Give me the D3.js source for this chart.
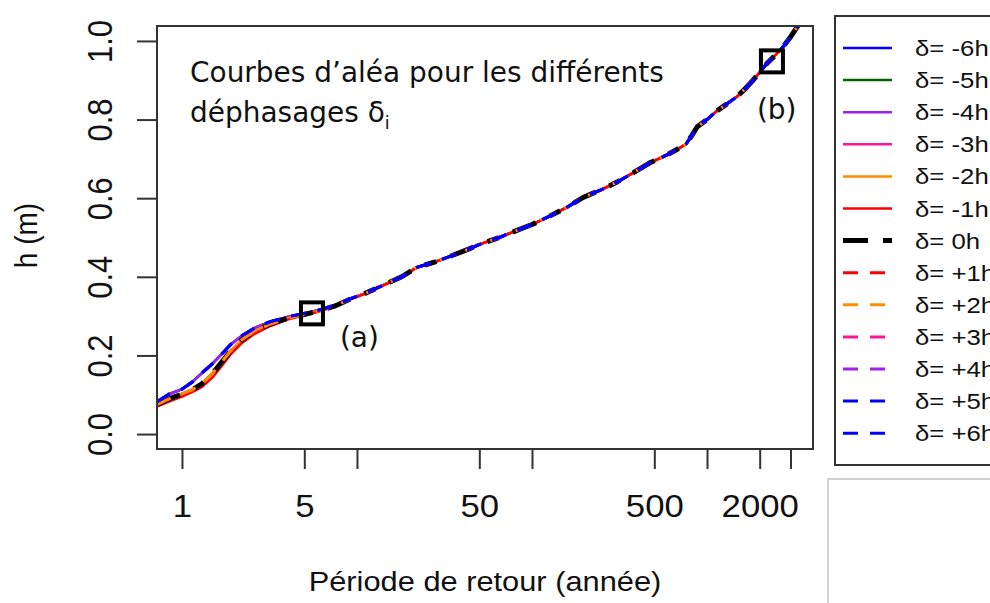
<!DOCTYPE html>
<html lang="fr">
<head>
<meta charset="utf-8">
<title>Courbes d'aléa</title>
<style>
  body { margin: 0; background: #fff; }
  svg { display: block; }
  .rtext { font-family: "Liberation Sans", Arial, sans-serif; fill: #111; }
  .note { font-family: "DejaVu Sans", sans-serif; fill: #111; }
</style>
</head>
<body>
<script src="https://d3js.org/d3.v7.min.js"></script>
<script>
// return periods (years), shared by every curve
const periods = [0.72, 0.85, 1.0, 1.15, 1.3, 1.5, 1.7, 1.9, 2.2, 2.6, 3.2, 4.0, 5.0, 6.0, 7.5, 9.1, 11, 14, 18, 22, 28, 34, 42, 52, 65, 82, 100, 127, 160, 196, 250, 306, 380, 472, 590, 700, 760, 820, 880, 1000, 1140, 1300, 1480, 1650, 1830, 2000, 2200, 2450, 2720, 3000, 3270, 3450];

// h (m): upper bundle, delta = 0h, lower (-1h)
const hUpper = [0.082, 0.102, 0.114, 0.133, 0.155, 0.18, 0.205, 0.228, 0.25, 0.27, 0.286, 0.298, 0.307, 0.315, 0.327, 0.344, 0.357, 0.378, 0.4, 0.424, 0.438, 0.452, 0.468, 0.485, 0.5, 0.518, 0.533, 0.555, 0.578, 0.602, 0.622, 0.641, 0.665, 0.69, 0.71, 0.728, 0.738, 0.76, 0.782, 0.8, 0.822, 0.84, 0.858, 0.878, 0.9, 0.92, 0.943, 0.963, 0.985, 1.01, 1.035, 1.05];
const hZero = [0.075, 0.09, 0.102, 0.113, 0.128, 0.155, 0.185, 0.212, 0.24, 0.262, 0.28, 0.294, 0.304, 0.313, 0.326, 0.343, 0.357, 0.378, 0.4, 0.424, 0.438, 0.452, 0.468, 0.485, 0.5, 0.518, 0.533, 0.555, 0.578, 0.602, 0.622, 0.641, 0.665, 0.69, 0.71, 0.728, 0.738, 0.76, 0.782, 0.8, 0.822, 0.84, 0.858, 0.878, 0.9, 0.92, 0.943, 0.963, 0.985, 1.01, 1.035, 1.05];
const hLower = [0.07, 0.083, 0.095, 0.107, 0.12, 0.145, 0.175, 0.203, 0.232, 0.255, 0.275, 0.291, 0.302, 0.311, 0.324, 0.342, 0.356, 0.377, 0.4, 0.424, 0.438, 0.452, 0.468, 0.485, 0.5, 0.518, 0.533, 0.555, 0.578, 0.602, 0.622, 0.641, 0.665, 0.69, 0.71, 0.728, 0.738, 0.76, 0.782, 0.8, 0.822, 0.84, 0.858, 0.878, 0.9, 0.92, 0.943, 0.963, 0.985, 1.01, 1.035, 1.05];

const seriesNames = ["δ= -6h", "δ= -5h", "δ= -4h", "δ= -3h", "δ= -2h", "δ= -1h", "δ= 0h", "δ= +1h", "δ= +2h", "δ= +3h", "δ= +4h", "δ= +5h", "δ= +6h"];
const seriesColors = ["#0000ff", "#006400", "#a020f0", "#ff1493", "#ff8c00", "#ff0000", "#000000", "#ff0000", "#ff8c00", "#ff1493", "#a020f0", "#0000ff", "#0000ff"];
const seriesValues = [hUpper, hUpper, hUpper, hZero, hZero, hLower, hZero, hZero, hZero, hUpper, hUpper, hUpper, hUpper];
const seriesKind = ["solid", "solid", "solid", "solid", "solid", "solid", "zero", "dash", "dash", "dash", "dash", "dash", "dash"];

const xTicks = [1, 5, 10, 50, 100, 500, 1000, 2000, 3000];
const xLabels = ["1", "5", "", "50", "", "500", "", "2000", ""];
const yTicks = [0, 0.2, 0.4, 0.6, 0.8, 1.0];

// highlighted points (a) and (b)
const markerT = [5.53, 2350];
const markerH = [0.307, 0.948];
const markerLabels = ["(a)", "(b)"];

const w = 990;
const h = 603;
const pLeft = 157, pRight = 813, pTop = 26, pBottom = 449;
const stretch = 1.12;

const xScale = d3.scaleLog().domain([0.72, 4033]).range([pLeft, pRight]);
const yScale = d3.scaleLinear().domain([-0.038, 1.038]).range([pBottom, pTop]);

const svg = d3.select("body").append("svg")
  .attr("width", w)
  .attr("height", h);

svg.append("defs").append("clipPath").attr("id", "plotclip")
  .append("rect")
  .attr("x", pLeft).attr("y", pTop)
  .attr("width", pRight - pLeft).attr("height", pBottom - pTop);

// curves
const line = d3.line()
  .x(d => xScale(d[0]))
  .y(d => yScale(d[1]));

const curves = svg.append("g").attr("clip-path", "url(#plotclip)");

function styleFor(kind) {
  if (kind === "zero") return { width: 5, dash: "25,15,12,15" };
  if (kind === "dash") return { width: 3, dash: "15,12" };
  return { width: 2.5, dash: null };
}

seriesNames.forEach((name, i) => {
  const st = styleFor(seriesKind[i]);
  curves.append("path")
    .datum(periods.map((t, j) => [t, seriesValues[i][j]]))
    .attr("d", line)
    .attr("fill", "none")
    .attr("stroke", seriesColors[i])
    .attr("stroke-width", st.width)
    .attr("stroke-dasharray", st.dash);
});

// box
svg.append("rect")
  .attr("x", pLeft).attr("y", pTop)
  .attr("width", pRight - pLeft).attr("height", pBottom - pTop)
  .attr("fill", "none")
  .attr("stroke", "#333")
  .attr("stroke-width", 2);

// axes
const xAxis = d3.axisBottom(xScale)
  .tickValues(xTicks)
  .tickFormat((d, i) => xLabels[i])
  .tickSize(20)
  .tickSizeOuter(0);

const gx = svg.append("g")
  .attr("transform", `translate(0, ${pBottom})`)
  .call(xAxis);
gx.select(".domain").remove();
gx.selectAll(".tick line").attr("stroke", "#333").attr("stroke-width", 2);
gx.selectAll(".tick text")
  .attr("class", "rtext")
  .attr("font-size", 31)
  .attr("y", 68)
  .attr("dy", 0)
  .attr("transform", `scale(${stretch},1)`);

const yAxis = d3.axisLeft(yScale)
  .tickValues(yTicks)
  .tickFormat(d3.format(".1f"))
  .tickSize(20)
  .tickSizeOuter(0);

const gy = svg.append("g")
  .attr("transform", `translate(${pLeft}, 0)`)
  .call(yAxis);
gy.select(".domain").remove();
gy.selectAll(".tick line").attr("stroke", "#333").attr("stroke-width", 2);
gy.selectAll(".tick text")
  .attr("class", "rtext")
  .attr("font-size", 31)
  .attr("x", 0).attr("y", 0).attr("dy", 0)
  .attr("text-anchor", "middle")
  .attr("transform", `translate(-45,0) scale(${stretch},1) rotate(-90)`);

// axis titles
svg.append("text")
  .attr("class", "rtext")
  .attr("font-size", 27.5)
  .attr("text-anchor", "middle")
  .attr("transform", `translate(${(pLeft + pRight) / 2}, 591) scale(${stretch},1)`)
  .text("Période de retour (année)");

svg.append("text")
  .attr("class", "rtext")
  .attr("font-size", 28)
  .attr("text-anchor", "middle")
  .attr("transform", `translate(37, ${(pTop + pBottom) / 2 - 2}) scale(${stretch},1) rotate(-90)`)
  .text("h (m)");

// annotation
const note1 = svg.append("text")
  .attr("class", "note")
  .attr("font-size", 29)
  .text("Courbes d’aléa pour les différents");
const sx = 474 / note1.node().getComputedTextLength();
note1.attr("transform", `translate(190, 82) scale(${sx},1)`);

const note2 = svg.append("text")
  .attr("class", "note")
  .attr("font-size", 29)
  .attr("transform", `translate(190, 122) scale(${sx},1)`);
note2.append("tspan").text("déphasages δ");
note2.append("tspan").attr("font-size", 18).attr("dy", 7).text("i");

// markers
markerLabels.forEach((lab, i) => {
  const cx = xScale(markerT[i]);
  const cy = yScale(markerH[i]);
  svg.append("rect")
    .attr("x", cx - 11).attr("y", cy - 11)
    .attr("width", 22).attr("height", 22)
    .attr("fill", "none")
    .attr("stroke", "#000")
    .attr("stroke-width", 4);
  const dx = i === 0 ? 28 : -15;
  const dy = i === 0 ? 34 : 58;
  svg.append("text")
    .attr("class", "note")
    .attr("font-size", 29)
    .attr("transform", `translate(${cx + dx}, ${cy + dy}) scale(${sx},1)`)
    .text(lab);
});

// legend
const legend = svg.append("g");
legend.append("rect")
  .attr("x", 835).attr("y", 16)
  .attr("width", 200).attr("height", 449)
  .attr("fill", "#fff")
  .attr("stroke", "#333")
  .attr("stroke-width", 2);

seriesNames.forEach((name, i) => {
  const ly = 48 + i * 32.1;
  const st = styleFor(seriesKind[i]);
  legend.append("line")
    .attr("x1", 843).attr("x2", 892)
    .attr("y1", ly).attr("y2", ly)
    .attr("stroke", seriesColors[i])
    .attr("stroke-width", st.width)
    .attr("stroke-dasharray", st.dash);
  legend.append("text")
    .attr("class", "rtext")
    .attr("font-size", 23)
    .attr("transform", `translate(915, ${ly + 8}) scale(${stretch},1)`)
    .text(name);
});

// empty panel below the legend
svg.append("rect")
  .attr("x", 828).attr("y", 479)
  .attr("width", 200).attr("height", 200)
  .attr("fill", "none")
  .attr("stroke", "#c4c4c4")
  .attr("stroke-width", 1.5);
</script>
</body>
</html>
